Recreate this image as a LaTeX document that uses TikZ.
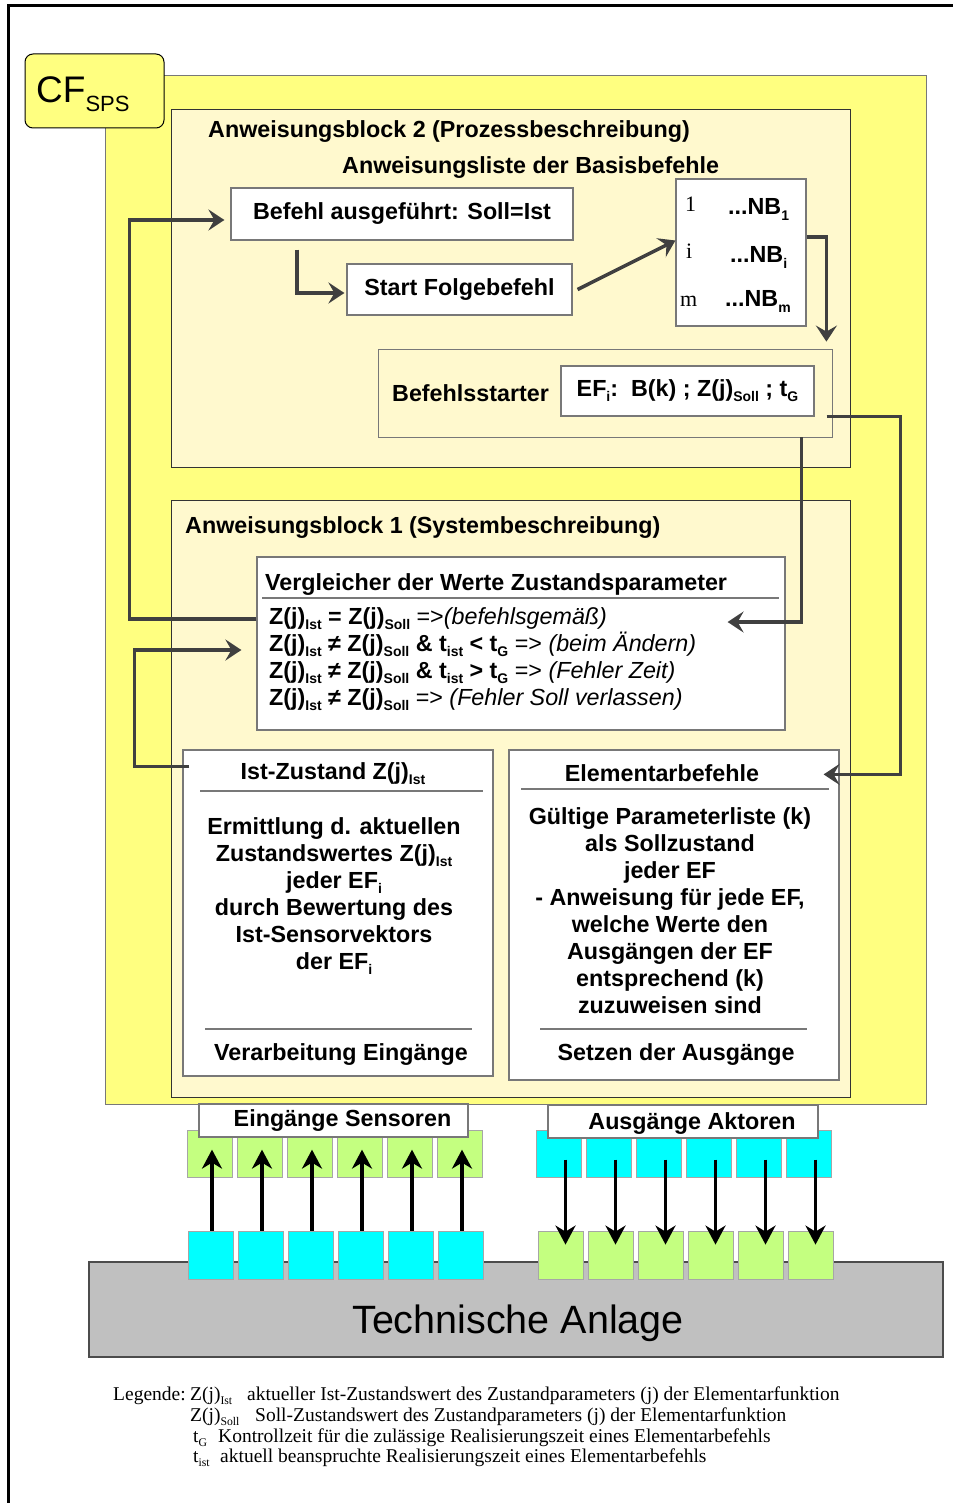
\documentclass[tikz,border=0pt]{standalone}
\usepackage{fontspec}
\setmainfont{Liberation Sans}
\newfontfamily\legendfont{Liberation Serif}
\usetikzlibrary{positioning}
\usetikzlibrary{arrows.meta}

\definecolor{sunny}{RGB}{255,255,128}
\definecolor{cream}{RGB}{255,249,206}
\definecolor{lime}{RGB}{196,255,128}
\definecolor{aqua}{RGB}{0,255,255}
\definecolor{plant}{RGB}{192,192,192}
\definecolor{wire}{RGB}{64,64,64}
\definecolor{frame}{RGB}{120,120,120}

% small lowered index
\newcommand{\lo}[1]{\raisebox{-0.22em}{\scalebox{0.6}{#1}}}

\begin{document}
\begin{tikzpicture}
  [
    x=1pt, y=-1pt,
    txt/.style={font=\fontsize{23.3}{27}\selectfont\bfseries, inner sep=0pt},
    serif/.style={font=\fontsize{22}{26}\selectfont\legendfont, inner sep=0pt},
    legtxt/.style={font=\fontsize{19.5}{21}\selectfont\legendfont, inner sep=0pt, anchor=base west},
    block/.style={draw=black!80, line width=0.8pt, fill=cream, inner sep=0pt},
    cell/.style={draw=frame, line width=1.2pt, fill=white, inner sep=0pt,
      font=\fontsize{23.3}{27}\selectfont\bfseries},
    hline/.style={draw=frame, line width=1.2pt},
    link/.style={draw=wire, line width=3.5pt, -{Stealth[length=16pt,width=21pt,inset=6pt]}},
    sig/.style={draw=black, line width=3.5pt, -{Stealth[length=19pt,width=20pt,inset=6pt]}},
    port/.style={draw=black!35, line width=0.8pt, minimum width=45pt, minimum height=47pt, inner sep=0pt}
  ]
  \useasboundingbox (0,0) rectangle (953,1503);
  \draw[line width=3pt] (8,1503) -- (8,6) -- (953,6);

  % CF area with both blocks
  \node[fill=sunny, draw=frame, line width=1pt, minimum width=821pt, minimum height=1028pt, inner sep=0pt] (cf) at (515.5,590) {};
  \node[block, minimum width=679pt, minimum height=358pt] (blk2) at (510.5,288) {};
  \node[block, minimum width=679pt, minimum height=597pt] (blk1) at (510.5,798.5) {};
  \node[fill=sunny, draw=black, line width=1pt, rounded corners=8pt, minimum width=139pt, minimum height=74pt] (cflbl) at (94.5,91) {};
  \node[inner sep=0pt, anchor=base west, font=\fontsize{37}{40}\selectfont] (cftxt) at (36,103)
    {CF\raisebox{-9pt}{\fontsize{22}{24}\selectfont SPS}};

  % block 2
  \node[txt, anchor=base west] (ttl2) at (208,138) {Anweisungsblock 2 (Prozessbeschreibung)};
  \node[txt, anchor=base west] (lst) at (342,174) {Anweisungsliste der Basisbefehle};
  \node[cell, minimum width=342pt, minimum height=52pt] (befehl) at (402,214) {Befehl ausgeführt: Soll=Ist};
  \node[cell, minimum width=225pt, minimum height=51pt] (start) at (459.5,289.5) {Start Folgebefehl};
  \node[cell, minimum width=130pt, minimum height=147pt] (nb) at (741,252.5) {};
  \node[serif, anchor=base west] (n1) at (685,212) {1};
  \node[txt, anchor=base west] (nb1) at (728,215) {...NB\lo{1}};
  \node[serif, anchor=base west] (ni) at (686,259) {i};
  \node[txt, anchor=base west] (nbi) at (730,263) {...NB\lo{i}};
  \node[serif, anchor=base west] (nm) at (680,307) {m};
  \node[txt, anchor=base west] (nbm) at (725,307) {...NB\lo{m}};
  \node[block, draw=frame, minimum width=454pt, minimum height=88pt] (starter) at (605,393) {};
  \node[txt, anchor=base west] (startlbl) at (392,401) {Befehlsstarter};
  \node[cell, minimum width=253pt, minimum height=50pt] (efi) at (687.5,391)
    {EF\lo{i}:\ \ B(k) ; Z(j)\lo{Soll} ; t\lo{G}};

  % block 1
  \node[txt, anchor=base west] (ttl1) at (185,533) {Anweisungsblock 1 (Systembeschreibung)};
  \node[cell, minimum width=528pt, minimum height=173pt] (vgl) at (521,643.5) {};
  \node[txt, anchor=base west] (vgltitle) at (265,590) {Vergleicher der Werte Zustandsparameter};
  \draw[hline] (262,598) -- (779,598);
  \node[txt, anchor=north west, align=left] (vglrows) at (269,607)
    {Z(j)\lo{Ist} = Z(j)\lo{Soll} {\mdseries =>\itshape(befehlsgemäß)}\\
     Z(j)\lo{Ist} ≠ Z(j)\lo{Soll} \& t\lo{ist} < t\lo{G} {\mdseries => \itshape(beim Ändern)}\\
     Z(j)\lo{Ist} ≠ Z(j)\lo{Soll} \& t\lo{ist} > t\lo{G} {\mdseries => \itshape(Fehler Zeit)}\\
     Z(j)\lo{Ist} ≠ Z(j)\lo{Soll} {\mdseries => \itshape(Fehler Soll verlassen)}};

  \node[cell, minimum width=310pt, minimum height=326pt] (ist) at (338,913) {};
  \node[txt, anchor=base] (isttitle) at (333,779) {Ist-Zustand Z(j)\lo{Ist}};
  \draw[hline] (200,791) -- (483,791);
  \node[txt, anchor=north, align=center] (istbody) at (334,817)
    {Ermittlung d. aktuellen\\Zustandswertes Z(j)\lo{Ist}\\jeder EF\lo{i}\\durch Bewertung des\\Ist-Sensorvektors\\der EF\lo{i}};
  \draw[hline] (205,1029) -- (472,1029);
  \node[txt, anchor=base] (istfoot) at (341,1060) {Verarbeitung Eingänge};

  \node[cell, minimum width=330pt, minimum height=330pt] (elem) at (674,915) {};
  \node[txt, anchor=base] (elemtitle) at (662,781) {Elementarbefehle};
  \draw[hline] (521,789) -- (829,789);
  \node[txt, anchor=north, align=center] (elembody) at (670,807)
    {Gültige Parameterliste (k)\\als Sollzustand\\jeder EF\\- Anweisung für jede EF,\\welche Werte den\\Ausgängen der EF\\entsprechend (k)\\zuzuweisen sind};
  \draw[hline] (540,1029) -- (807,1029);
  \node[txt, anchor=base] (elemfoot) at (676,1060) {Setzen der Ausgänge};

  % control flow
  \draw[link] ([xshift=-105pt,yshift=-9pt]befehl.south) |- ([xshift=-2pt,yshift=-3.5pt]start.west);
  \draw[link] ([xshift=5pt]start.east) -- ([yshift=12pt]nb.west);
  \draw[link] ([yshift=15.5pt]nb.east) -| ([xshift=-6pt,yshift=7pt]starter.north east);
  \draw[link] ([xshift=-31pt]starter.south east) |- ([xshift=-58pt,yshift=21.5pt]vgl.east);
  \draw[link] ([xshift=12pt]efi.south east) -- ++(74,0) |- ([xshift=-16pt,yshift=-25pt]elem.north east);
  \draw[link] ([yshift=24.5pt]vgl.west) -- ++(-127,0) |- ([xshift=-6pt,yshift=-6pt]befehl.west);
  \draw[link] ([xshift=7pt,yshift=-17pt]ist.north west) -- ++(-55,0) |- ([xshift=-15pt,yshift=-6.5pt]vgl.west);

  % plant with sensors and actuators
  \node[fill=plant, draw=black!70, line width=2pt, minimum width=854pt, minimum height=95pt] (anlage) at (516,1309.5) {};
  \node[inner sep=0pt, anchor=base, font=\fontsize{39.5}{42}\selectfont] (anlagetxt) at (518,1333) {Technische Anlage};

  \foreach \i in {0,...,5} {
    \node[port, fill=lime] (e\i) at ({209.5+50*\i},1153.5) {};
    \node[port, fill=aqua, minimum height=48pt] (s\i) at ({210.5+50*\i},1255) {};
    \node[port, fill=aqua] (a\i) at ({558.5+50*\i},1153.5) {};
    \node[port, fill=lime, minimum height=48pt] (g\i) at ({560.5+50*\i},1255) {};
    \draw[sig] ([xshift=1.5pt]s\i.north) -- ([xshift=1.5pt,yshift=-20pt]s\i.north |- e\i.north);
    \draw[sig] ([xshift=7pt,yshift=-30pt]a\i.north) -- ([xshift=7pt,yshift=-14pt]a\i.north |- g\i.north);
  }

  \node[cell, minimum width=269pt, minimum height=33pt] (inbox) at (333.5,1120.5) {};
  \node[txt, anchor=base] (intxt) at (342.5,1126) {Eingänge Sensoren};
  \node[cell, minimum width=270pt, minimum height=33pt] (outbox) at (683,1121.5) {};
  \node[txt, anchor=base] (outtxt) at (692,1129) {Ausgänge Aktoren};

  % legend
  \node[legtxt] (leg) at (113,1400) {Legende:};
  \node[legtxt] (k1) at (190,1400) {Z(j)\lo{Ist}};
  \node[legtxt] (d1) at (247,1400) {aktueller Ist-Zustandswert des Zustandparameters (j) der Elementarfunktion};
  \node[legtxt] (k2) at (190,1421) {Z(j)\lo{Soll}};
  \node[legtxt] (d2) at (255,1421) {Soll-Zustandswert des Zustandparameters (j) der Elementarfunktion};
  \node[legtxt] (k3) at (193,1442) {t\lo{G}};
  \node[legtxt] (d3) at (218,1442) {Kontrollzeit für die zulässige Realisierungszeit eines Elementarbefehls};
  \node[legtxt] (k4) at (193,1462) {t\lo{ist}};
  \node[legtxt] (d4) at (220,1462) {aktuell beanspruchte Realisierungszeit eines Elementarbefehls};
\end{tikzpicture}
\end{document}
